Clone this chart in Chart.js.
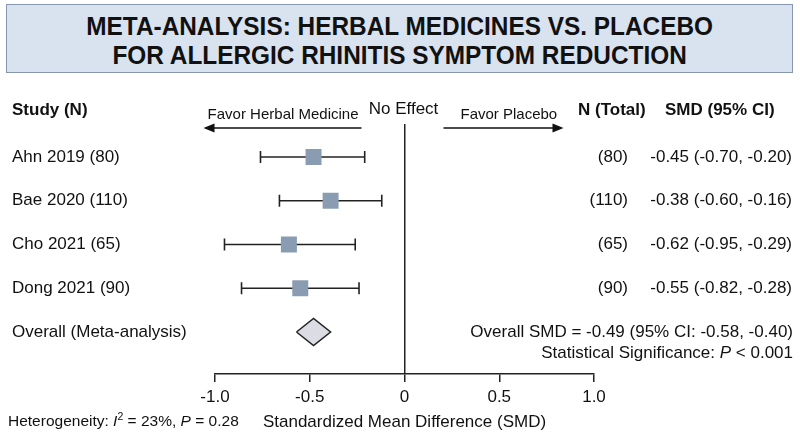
<!DOCTYPE html>
<html>
<head>
<meta charset="utf-8">
<script src="https://cdn.jsdelivr.net/npm/chart.js@4.4.1/dist/chart.umd.min.js"></script>
<style>
    html, body { margin: 0; padding: 0; background: #fff; }
    .wrap { position: relative; width: 800px; height: 437px; font-family: 'Liberation Sans', Arial, sans-serif; }
    .title-box {
        position: absolute; left: 6px; top: 4px; width: 785px; height: 67px;
        background: #d9e2ef; border: 1.5px solid #8797ad; box-sizing: content-box;
        display: flex; align-items: center; justify-content: center; text-align: center;
        color: #111;
    }
    .title-box span {
        display: block; font-weight: bold; font-size: 26.5px; line-height: 28.5px;
        transform: scaleX(0.92); padding-top: 4px; white-space: nowrap;
    }
    canvas { position: absolute; left: 0; top: 0; }
</style>
</head>
<body>
<div class="wrap">
    <canvas id="forest" width="800" height="437"></canvas>
    <div class="title-box"><span>META-ANALYSIS: HERBAL MEDICINES VS. PLACEBO<br>FOR ALLERGIC RHINITIS SYMPTOM REDUCTION</span></div>
</div>
<script>
// study rows
const studies = ['Ahn 2019 (80)', 'Bae 2020 (110)', 'Cho 2021 (65)', 'Dong 2021 (90)'];
const nTotal = ['(80)', '(110)', '(65)', '(90)'];
const smdLabels = ['-0.45 (-0.70, -0.20)', '-0.38 (-0.60, -0.16)', '-0.62 (-0.95, -0.29)', '-0.55 (-0.82, -0.28)'];

// marks as drawn in the picture
const smd = [-0.48, -0.39, -0.61, -0.55];
const ciLow = [-0.76, -0.66, -0.95, -0.86];
const ciHigh = [-0.21, -0.12, -0.26, -0.24];

// pooled estimate
const overallLabel = 'Overall (Meta-analysis)';
const overallText = 'Overall SMD = -0.49 (95% CI: -0.58, -0.40)';
const overallSmd = -0.48;
const overallLow = -0.57;
const overallHigh = -0.39;

const xTicks = [-1, -0.5, 0, 0.5, 1];

const FONT = "'Liberation Sans', Arial, sans-serif";
const INK = '#111';
const Y_MIN = -0.754;
const Y_MAX = 4.960;
const OVERALL_ROW = studies.length;

const fontOf = (size, p = {}) => `${p.italic ? 'italic ' : ''}${p.bold ? 'bold ' : ''}${size}px ${FONT}`;

const text = (ctx, s, x, y, size, opts = {}) => {
    ctx.font = fontOf(size, opts);
    ctx.textAlign = opts.align || 'left';
    ctx.textBaseline = 'middle';
    ctx.fillStyle = INK;
    ctx.fillText(s, x, y);
};

// mixed italic / superscript runs
const runs = (ctx, parts, x, y, size, align) => {
    const widths = parts.map(p => {
        ctx.font = fontOf(p.sup ? size * 0.68 : size, p);
        return ctx.measureText(p.t).width;
    });
    const total = widths.reduce((a, b) => a + b, 0);
    let cx = align === 'right' ? x - total : x;
    ctx.textAlign = 'left';
    ctx.textBaseline = 'middle';
    ctx.fillStyle = INK;
    parts.forEach((p, i) => {
        ctx.font = fontOf(p.sup ? size * 0.68 : size, p);
        ctx.fillText(p.t, cx, p.sup ? y - size * 0.32 : y);
        cx += widths[i];
    });
};

const arrow = (ctx, from, to, y) => {
    const dir = Math.sign(to - from);
    ctx.save();
    ctx.strokeStyle = INK;
    ctx.fillStyle = INK;
    ctx.lineWidth = 1.5;
    ctx.beginPath();
    ctx.moveTo(from, y);
    ctx.lineTo(to - dir * 8, y);
    ctx.stroke();
    ctx.beginPath();
    ctx.moveTo(to, y);
    ctx.lineTo(to - dir * 11, y - 4.5);
    ctx.lineTo(to - dir * 11, y + 4.5);
    ctx.closePath();
    ctx.fill();
    ctx.restore();
};

const annotations = {
    id: 'annotations',
    afterDraw(chart) {
        const ctx = chart.ctx;
        const xs = chart.scales.x;
        const ys = chart.scales.y;
        const x0 = xs.getPixelForValue(0);

        ctx.save();
        // header row
        text(ctx, 'Study (N)', 12, 110, 17, { bold: true });
        text(ctx, 'Favor Herbal Medicine', x0 - 46, 115, 15, { align: 'right' });
        text(ctx, 'No Effect', x0 - 1, 109, 17, { align: 'center' });
        text(ctx, 'Favor Placebo', x0 + 56, 115, 15);
        text(ctx, 'N (Total)', 578, 110, 17, { bold: true });
        text(ctx, 'SMD (95% CI)', 665, 110, 17, { bold: true });
        arrow(ctx, x0 - 43, x0 - 201, 128);
        arrow(ctx, x0 + 39, x0 + 159, 128);

        // study rows
        studies.forEach((s, i) => {
            const y = ys.getPixelForValue(i);
            text(ctx, s, 12, y, 17);
            text(ctx, nTotal[i], 628, y, 17, { align: 'right' });
            text(ctx, smdLabels[i], 792, y, 17, { align: 'right' });
        });

        const yo = ys.getPixelForValue(OVERALL_ROW);
        text(ctx, overallLabel, 12, yo, 17);
        text(ctx, overallText, 793, yo, 17, { align: 'right' });
        runs(ctx, [
            { t: 'Statistical Significance: ' },
            { t: 'P', italic: true },
            { t: ' < 0.001' }
        ], 793, yo + 21, 17, 'right');

        runs(ctx, [
            { t: 'Heterogeneity: ' },
            { t: 'I', italic: true },
            { t: '2', sup: true },
            { t: ' = 23%, ' },
            { t: 'P', italic: true },
            { t: ' = 0.28' }
        ], 8, 422, 15.5, 'left');
        ctx.restore();
    }
};

const ciSets = studies.map((s, i) => ({
    type: 'line',
    label: s,
    data: [{ x: ciLow[i], y: i }, { x: ciHigh[i], y: i }],
    showLine: true,
    borderColor: '#222',
    borderWidth: 1.6,
    pointStyle: 'line',
    pointRotation: 90,
    pointRadius: 6,
    pointBorderColor: '#222',
    pointBorderWidth: 1.6,
    order: 2
}));

const squares = {
    type: 'scatter',
    label: 'SMD',
    data: smd.map((v, i) => ({ x: v, y: i })),
    pointStyle: 'rect',
    pointRadius: 11.3,
    backgroundColor: '#8a9cb1',
    borderWidth: 0,
    order: 1
};

const half = 0.31;
const diamond = {
    type: 'line',
    label: 'Overall',
    data: [
        { x: overallLow, y: OVERALL_ROW },
        { x: overallSmd, y: OVERALL_ROW - half },
        { x: overallHigh, y: OVERALL_ROW },
        { x: overallSmd, y: OVERALL_ROW + half },
        { x: overallLow, y: OVERALL_ROW }
    ],
    showLine: true,
    fill: 'shape',
    backgroundColor: '#dcdce5',
    borderColor: '#222',
    borderWidth: 1.5,
    pointRadius: 0,
    tension: 0,
    order: 1
};

new Chart(document.getElementById('forest'), {
    type: 'scatter',
    data: { datasets: [...ciSets, squares, diamond] },
    options: {
        responsive: false,
        animation: false,
        layout: { padding: { left: 215, right: 206, top: 124, bottom: 0 } },
        plugins: { legend: { display: false }, tooltip: { enabled: false } },
        scales: {
            x: {
                type: 'linear',
                min: -1,
                max: 1,
                afterFit: (scale) => { scale.height = 63; },
                afterBuildTicks: (scale) => { scale.ticks = xTicks.map(v => ({ value: v })); },
                ticks: {
                    color: INK,
                    font: { family: FONT, size: 17 },
                    padding: 5,
                    maxRotation: 0,
                    callback: v => v === 0 ? '0' : v.toFixed(1)
                },
                grid: {
                    drawOnChartArea: true,
                    color: c => (c.tick && c.tick.value === 0) ? '#222' : 'rgba(0,0,0,0)',
                    lineWidth: 1.5,
                    tickColor: '#222',
                    tickLength: 8,
                    tickWidth: 1.5
                },
                border: { display: true, color: '#222', width: 1.5 },
                title: {
                    display: true,
                    text: 'Standardized Mean Difference (SMD)',
                    color: INK,
                    font: { family: FONT, size: 17 },
                    padding: { top: 0, bottom: 4 }
                }
            },
            y: { type: 'linear', reverse: true, min: Y_MIN, max: Y_MAX, display: false }
        }
    },
    plugins: [annotations]
});
</script>
</body>
</html>
